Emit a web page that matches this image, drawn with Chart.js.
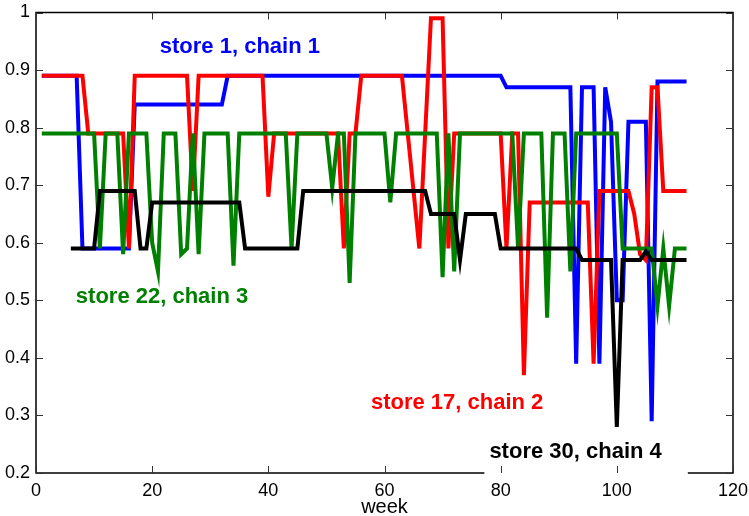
<!DOCTYPE html>
<html><head><meta charset="utf-8">
<script src="https://cdn.jsdelivr.net/npm/chart.js@4/dist/chart.umd.min.js"></script>
<style>html,body{margin:0;padding:0;background:#fff}canvas{display:block}</style>
</head><body>
<canvas id="c" width="749" height="516"></canvas>
<script>
// ---- data (weeks 1..112) ----
const weeks = [];
for (let w = 1; w <= 112; w++) weeks.push(w);

const store1chain1 = [
  0.89,0.89,0.89,0.89,0.89,0.89,0.89,
  0.59,0.59,0.59,0.59,0.59,0.59,0.59,0.59,0.59,
  0.84,0.84,0.84,0.84,0.84,0.84,0.84,0.84,0.84,0.84,0.84,0.84,0.84,0.84,0.84,0.84,
  0.89,0.89,0.89,0.89,0.89,0.89,0.89,0.89,0.89,0.89,0.89,0.89,0.89,0.89,0.89,0.89,
  0.89,0.89,0.89,0.89,0.89,0.89,0.89,0.89,0.89,0.89,0.89,0.89,0.89,0.89,0.89,0.89,
  0.89,0.89,0.89,0.89,0.89,0.89,0.89,0.89,0.89,0.89,0.89,0.89,0.89,0.89,0.89,0.89,
  0.87,0.87,0.87,0.87,0.87,0.87,0.87,0.87,0.87,0.87,0.87,0.87,
  0.39,0.87,0.87,0.87,0.39,0.87,0.81,0.50,0.50,0.81,0.81,0.81,0.81,0.29,
  0.88,0.88,0.88,0.88,0.88,0.88
];
const store17chain2 = [
  0.89,0.89,0.89,0.89,0.89,0.89,0.89,0.89,
  0.79,0.79,0.79,0.79,0.79,0.79,0.79,
  0.59,
  0.89,0.89,0.89,0.89,0.89,0.89,0.89,0.89,0.89,0.89,
  0.69,
  0.89,0.89,0.89,0.89,0.89,0.89,0.89,0.89,0.89,0.89,0.89,0.89,
  0.68,
  0.79,0.79,0.79,0.79,0.79,0.79,0.79,0.79,0.79,0.79,0.79,0.79,
  0.59,0.79,0.79,
  0.89,0.89,0.89,0.89,0.89,0.89,0.89,0.89,
  0.79,0.69,0.59,0.79,0.99,0.99,0.99,0.59,
  0.79,0.79,0.79,0.79,0.79,0.79,0.79,0.79,0.79,
  0.59,0.79,0.79,0.37,
  0.67,0.67,0.67,0.67,0.67,0.67,0.67,0.67,0.67,0.67,0.67,
  0.39,
  0.69,0.69,0.69,0.69,0.69,0.69,
  0.65,0.58,0.57,0.87,0.87,
  0.69,0.69,0.69,0.69,0.69
];
const store22chain3 = [
  0.79,0.79,0.79,0.79,0.79,0.79,0.79,0.79,0.79,0.79,
  0.59,0.79,0.79,0.79,0.58,0.79,0.79,0.79,0.79,0.60,0.55,
  0.79,0.79,0.79,0.58,0.59,0.79,0.58,
  0.79,0.79,0.79,0.79,0.79,0.56,
  0.79,0.79,0.79,0.79,0.79,0.79,0.79,0.79,0.79,0.59,
  0.79,0.79,0.79,0.79,0.79,0.79,0.695,0.79,0.79,0.53,
  0.79,0.79,0.79,0.79,0.79,0.79,0.67,
  0.79,0.79,0.79,0.79,0.79,0.79,0.79,0.79,0.54,0.79,0.55,
  0.79,0.79,0.79,0.79,0.79,0.79,0.79,0.79,0.79,0.79,0.59,
  0.79,0.79,0.79,0.79,0.47,0.79,0.79,0.79,0.55,
  0.79,0.79,0.79,0.79,0.79,0.79,0.79,0.79,
  0.59,0.59,0.59,0.59,0.59,0.59,0.49,0.59,0.49,0.59,0.59,0.59
];
const store30chain4 = [
  null,null,null,null,null,
  0.59,0.59,0.59,0.59,0.59,
  0.69,0.69,0.69,0.69,0.69,0.69,0.69,
  0.59,0.59,
  0.67,0.67,0.67,0.67,0.67,0.67,0.67,0.67,0.67,0.67,0.67,0.67,0.67,0.67,0.67,0.67,
  0.59,0.59,0.59,0.59,0.59,0.59,0.59,0.59,0.59,0.59,
  0.69,0.69,0.69,0.69,0.69,0.69,0.69,0.69,0.69,0.69,0.69,
  0.69,0.69,0.69,0.69,0.69,0.69,0.69,0.69,0.69,0.69,0.69,
  0.65,0.65,0.65,0.65,0.65,0.57,0.65,0.65,0.65,0.65,0.65,0.65,
  0.59,0.59,0.59,0.59,0.59,0.59,0.59,0.59,0.59,0.59,0.59,0.59,0.59,0.59,
  0.57,0.57,0.57,0.57,0.57,0.57,0.28,0.57,0.57,0.57,0.57,0.585,
  0.57,0.57,0.57,0.57,0.57,0.57,0.57
];

const xTickValues = [0, 20, 40, 60, 80, 100, 120];
const yTickValues = [0.2, 0.3, 0.4, 0.5, 0.6, 0.7, 0.8, 0.9, 1];

const seriesNames = ['store 30, chain 4', 'store 22, chain 3', 'store 17, chain 2', 'store 1, chain 1'];
const seriesColors = ['#000000', '#008000', '#ff0000', '#0000ff'];
const seriesData = [store30chain4, store22chain3, store17chain2, store1chain1];

// text labels placed in data coordinates (centre of text)
const textLabels = [
  { text: 'store 1, chain 1',  color: '#0000ff', x: 35.1, y: 0.94 },
  { text: 'store 22, chain 3', color: '#008000', x: 21.7, y: 0.506 },
  { text: 'store 17, chain 2', color: '#ff0000', x: 72.5, y: 0.321 },
  { text: 'store 30, chain 4', color: '#000000', x: 92.9, y: 0.236, box: true }
];

const FONT = '"Liberation Sans", Arial, Helvetica, sans-serif';

const boxPlugin = {
  id: 'matlabBox',
  afterDraw(chart) {
    const { ctx, chartArea: a, scales: { x, y } } = chart;
    ctx.save();
    ctx.strokeStyle = '#000';
    ctx.lineWidth = 1.5;
    ctx.strokeRect(a.left, a.top, a.right - a.left, a.bottom - a.top);

    ctx.font = 'bold 22px ' + FONT;
    ctx.textAlign = 'center';
    ctx.textBaseline = 'middle';
    textLabels.forEach(t => {
      if (!t.box) return;
      const cx = x.getPixelForValue(t.x), cy = y.getPixelForValue(t.y);
      const w = ctx.measureText(t.text).width;
      ctx.fillStyle = '#fff';
      ctx.fillRect(cx - w / 2 - 5, cy - 16, w + 31, a.bottom + 3 - (cy - 16));
    });

    ctx.strokeStyle = '#333';
    ctx.lineWidth = 1;
    ctx.beginPath();
    xTickValues.forEach(v => {
      const px = Math.round(x.getPixelForValue(v)) + 0.5;
      ctx.moveTo(px, a.bottom); ctx.lineTo(px, a.bottom - 7);
      ctx.moveTo(px, a.top); ctx.lineTo(px, a.top + 7);
    });
    yTickValues.forEach(v => {
      const py = Math.round(y.getPixelForValue(v)) + 0.5;
      ctx.moveTo(a.left, py); ctx.lineTo(a.left + 7, py);
      ctx.moveTo(a.right, py); ctx.lineTo(a.right - 7, py);
    });
    ctx.stroke();

    textLabels.forEach(t => {
      ctx.fillStyle = t.color;
      ctx.fillText(t.text, x.getPixelForValue(t.x), y.getPixelForValue(t.y));
    });
    ctx.restore();
  }
};

new Chart(document.getElementById('c'), {
  type: 'line',
  data: {
    labels: weeks,
    datasets: seriesData.map((d, i) => ({
      label: seriesNames[i],
      data: d,
      borderColor: seriesColors[i],
      backgroundColor: seriesColors[i],
      borderWidth: 4,
      pointRadius: 0,
      tension: 0,
      fill: false,
      spanGaps: false,
      order: i
    }))
  },
  options: {
    responsive: false,
    animation: false,
    devicePixelRatio: 1,
    layout: { padding: { left: 0, right: 16, top: 12.5, bottom: 0 } },
    plugins: { legend: { display: false }, tooltip: { enabled: false } },
    scales: {
      x: {
        type: 'linear',
        min: 0, max: 120,
        afterBuildTicks: s => { s.ticks = xTickValues.map(v => ({ value: v })); },
        afterFit: s => { s.height = 43; s.paddingLeft = 0; s.paddingRight = 0; },
        grid: { display: false, drawTicks: false },
        border: { display: false },
        ticks: { color: '#000', font: { family: FONT, size: 18 }, padding: 7, maxRotation: 0, autoSkip: false },
        title: { display: true, text: 'week', color: '#000', font: { family: FONT, size: 20, lineHeight: 1 }, padding: { top: 0, bottom: -1 } }
      },
      y: {
        type: 'linear',
        min: 0.2, max: 1,
        afterBuildTicks: s => { s.ticks = yTickValues.map(v => ({ value: v })); },
        afterFit: s => { s.width = 36; s.paddingTop = 0; s.paddingBottom = 0; },
        grid: { display: false, drawTicks: false },
        border: { display: false },
        ticks: { color: '#000', font: { family: FONT, size: 18 }, padding: 6, callback: v => String(v) }
      }
    }
  },
  plugins: [boxPlugin]
});
</script>
</body></html>
